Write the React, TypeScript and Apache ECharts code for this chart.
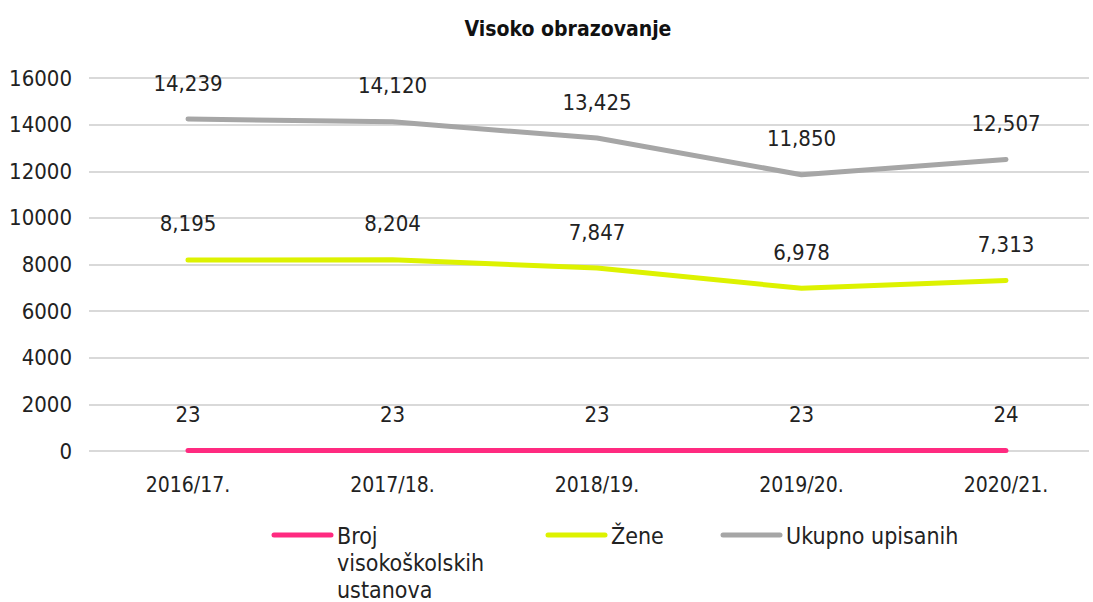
import React, { useEffect, useRef } from "react";
import * as echarts from "echarts";

const categories = ["2016/17.", "2017/18.", "2018/19.", "2019/20.", "2020/21."];
const seriesNames = ["Broj\nvisokoškolskih\nustanova", "Žene", "Ukupno upisanih"];
const institutions = [23, 23, 23, 23, 24];
const women = [8195, 8204, 7847, 6978, 7313];
const total = [14239, 14120, 13425, 11850, 12507];
const colors = ["#FF2A80", "#DDF200", "#A6A6A6"];
const yTicks = { min: 0, max: 16000, interval: 2000 };

const FONT = "'DejaVu Sans Condensed', 'DejaVu Sans', sans-serif";

export default function App() {
  const ref = useRef<HTMLDivElement>(null);
  useEffect(() => {
    if (!ref.current) return;
    const chart = echarts.init(ref.current, null, { renderer: "svg" });
    const fmt = (p: any) => Number(p.value).toLocaleString("en-US");
    const mk = (name: string, data: number[], color: string) => ({
      name,
      type: "line",
      xAxisIndex: 1,
      yAxisIndex: 1,
      data,
      symbol: "circle",
      symbolSize: 2,
      showSymbol: true,
      showAllSymbol: true,
      lineStyle: { color, width: 5, cap: "round" },
      itemStyle: { color: "rgba(0,0,0,0)", borderWidth: 0 },
      label: {
        show: true,
        position: "top",
        distance: 24,
        formatter: fmt,
        fontFamily: FONT,
        fontSize: 22,
        color: "#222",
      },
    });
    const legendX = [274, 548, 723];
    const legend = seriesNames.map((n, i) => ({
      type: "group",
      x: legendX[i],
      y: 535,
      children: [
        { type: "line", shape: { x1: 0, y1: 0, x2: 57, y2: 0 }, style: { stroke: colors[i], lineWidth: 5, lineCap: "round" } },
        {
          type: "text",
          x: 63,
          y: -13,
          style: { text: n, fontFamily: FONT, fontSize: 23, fill: "#222", lineHeight: 27, verticalAlign: "top" },
        },
      ],
    }));
    chart.setOption({
      animation: false,
      backgroundColor: "#fff",
      title: {
        text: "Visoko obrazovanje",
        left: 563,
        textAlign: "center",
        top: 13,
        textStyle: { fontFamily: FONT, fontSize: 21, fontWeight: "bold", color: "#111" },
      },
      grid: [
        { left: 89, width: 1000, top: 78, bottom: 151 },
        { left: 188, width: 818, top: 78, bottom: 151 },
      ],
      xAxis: [
        { type: "category", gridIndex: 0, data: categories, show: false },
        {
          type: "category",
          gridIndex: 1,
          data: categories,
          boundaryGap: false,
          axisLine: { show: false },
          axisTick: { show: false },
          axisLabel: { margin: 23, fontFamily: FONT, fontSize: 21, color: "#222" },
        },
      ],
      yAxis: [
        {
          type: "value",
          gridIndex: 0,
          ...yTicks,
          axisLine: { show: false },
          axisTick: { show: false },
          splitLine: { lineStyle: { color: "#D9D9D9", width: 2 } },
          axisLabel: { margin: 17, fontFamily: FONT, fontSize: 22, color: "#222", formatter: (v: number) => String(v) },
        },
        { type: "value", gridIndex: 1, ...yTicks, show: false, splitLine: { show: false } },
      ],
      series: [
        mk(seriesNames[0], institutions, colors[0]),
        mk(seriesNames[1], women, colors[1]),
        mk(seriesNames[2], total, colors[2]),
      ],
      graphic: legend,
    });
    return () => chart.dispose();
  }, []);
  return <div ref={ref} style={{ position: "fixed", left: 0, top: 0, width: 1093, height: 602 }} />;
}
